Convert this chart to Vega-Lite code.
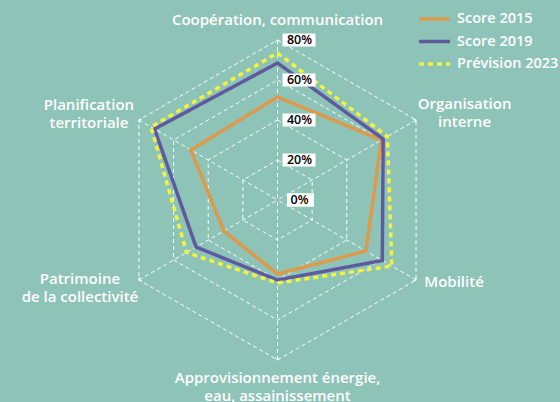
{
  "$schema": "https://vega.github.io/schema/vega-lite/v6.json",
  "width": 560,
  "height": 402,
  "autosize": {"type": "none"},
  "padding": 0,
  "background": "#8ec3b8",
  "config": {
    "view": {"stroke": null},
    "font": "Open Sans",
    "text": {"font": "Open Sans"}
  },
  "datasets": {
    "axes": [
      {"axe": "Coopération, communication", "ordre": 0, "lignes": ["Coopération, communication"]},
      {"axe": "Organisation interne", "ordre": 1, "lignes": ["Organisation", "interne"]},
      {"axe": "Mobilité", "ordre": 2, "lignes": ["Mobilité"]},
      {"axe": "Approvisionnement énergie, eau, assainissement", "ordre": 3, "lignes": ["Approvisionnement énergie,", "eau, assainissement"]},
      {"axe": "Patrimoine de la collectivité", "ordre": 4, "lignes": ["Patrimoine", "de la collectivité"]},
      {"axe": "Planification territoriale", "ordre": 5, "lignes": ["Planification", "territoriale"]}
    ],
    "niveaux": [
      {"niveau": 20, "ordre": 0}, {"niveau": 20, "ordre": 1}, {"niveau": 20, "ordre": 2}, {"niveau": 20, "ordre": 3}, {"niveau": 20, "ordre": 4}, {"niveau": 20, "ordre": 5},
      {"niveau": 40, "ordre": 0}, {"niveau": 40, "ordre": 1}, {"niveau": 40, "ordre": 2}, {"niveau": 40, "ordre": 3}, {"niveau": 40, "ordre": 4}, {"niveau": 40, "ordre": 5},
      {"niveau": 60, "ordre": 0}, {"niveau": 60, "ordre": 1}, {"niveau": 60, "ordre": 2}, {"niveau": 60, "ordre": 3}, {"niveau": 60, "ordre": 4}, {"niveau": 60, "ordre": 5},
      {"niveau": 80, "ordre": 0}, {"niveau": 80, "ordre": 1}, {"niveau": 80, "ordre": 2}, {"niveau": 80, "ordre": 3}, {"niveau": 80, "ordre": 4}, {"niveau": 80, "ordre": 5}
    ],
    "graduations": [
      {"valeur": 0, "texte": "0%"},
      {"valeur": 20, "texte": "20%"},
      {"valeur": 40, "texte": "40%"},
      {"valeur": 60, "texte": "60%"},
      {"valeur": 80, "texte": "80%"}
    ],
    "scores": [
      {"serie": "Score 2015", "axe": "Coopération, communication", "ordre": 0, "valeur": 51.5},
      {"serie": "Score 2015", "axe": "Organisation interne", "ordre": 1, "valeur": 60},
      {"serie": "Score 2015", "axe": "Mobilité", "ordre": 2, "valeur": 51},
      {"serie": "Score 2015", "axe": "Approvisionnement énergie, eau, assainissement", "ordre": 3, "valeur": 37},
      {"serie": "Score 2015", "axe": "Patrimoine de la collectivité", "ordre": 4, "valeur": 31},
      {"serie": "Score 2015", "axe": "Planification territoriale", "ordre": 5, "valeur": 50},
      {"serie": "Score 2019", "axe": "Coopération, communication", "ordre": 0, "valeur": 68.5},
      {"serie": "Score 2019", "axe": "Organisation interne", "ordre": 1, "valeur": 61},
      {"serie": "Score 2019", "axe": "Mobilité", "ordre": 2, "valeur": 60.5},
      {"serie": "Score 2019", "axe": "Approvisionnement énergie, eau, assainissement", "ordre": 3, "valeur": 40},
      {"serie": "Score 2019", "axe": "Patrimoine de la collectivité", "ordre": 4, "valeur": 47},
      {"serie": "Score 2019", "axe": "Planification territoriale", "ordre": 5, "valeur": 71},
      {"serie": "Prévision 2023", "axe": "Coopération, communication", "ordre": 0, "valeur": 73.5},
      {"serie": "Prévision 2023", "axe": "Organisation interne", "ordre": 1, "valeur": 63.5},
      {"serie": "Prévision 2023", "axe": "Mobilité", "ordre": 2, "valeur": 66},
      {"serie": "Prévision 2023", "axe": "Approvisionnement énergie, eau, assainissement", "ordre": 3, "valeur": 41.5},
      {"serie": "Prévision 2023", "axe": "Patrimoine de la collectivité", "ordre": 4, "valeur": 52.5},
      {"serie": "Prévision 2023", "axe": "Planification territoriale", "ordre": 5, "valeur": 73}
    ]
  },
  "layer": [
    {
      "data": {"name": "niveaux"},
      "transform": [
        {"calculate": "datum.niveau * sin(datum.ordre * PI / 3)", "as": "px"},
        {"calculate": "datum.niveau * cos(datum.ordre * PI / 3)", "as": "py"}
      ],
      "mark": {"type": "line", "interpolate": "linear-closed", "color": "white", "strokeWidth": 1, "strokeDash": [4, 3], "opacity": 0.95},
      "encoding": {
        "x": {"field": "px", "type": "quantitative", "scale": {"domain": [-138.75, 141.25], "nice": false, "zero": false}, "axis": null},
        "y": {"field": "py", "type": "quantitative", "scale": {"domain": [-101, 100], "nice": false, "zero": false}, "axis": null},
        "detail": {"field": "niveau"},
        "order": {"field": "ordre", "type": "quantitative"}
      }
    },
    {
      "data": {"name": "axes"},
      "transform": [
        {"calculate": "80 * sin(datum.ordre * PI / 3)", "as": "px"},
        {"calculate": "80 * cos(datum.ordre * PI / 3)", "as": "py"}
      ],
      "mark": {"type": "rule", "color": "white", "strokeWidth": 1, "strokeDash": [4, 3], "opacity": 0.95},
      "encoding": {
        "x": {"field": "px", "type": "quantitative"},
        "y": {"field": "py", "type": "quantitative"},
        "x2": {"datum": 0},
        "y2": {"datum": 0}
      }
    },
    {
      "data": {"name": "axes"},
      "transform": [
        {"calculate": "80 * sin(datum.ordre * PI / 3)", "as": "px"},
        {"calculate": "80 * cos(datum.ordre * PI / 3)", "as": "py"},
        {"calculate": "datum.ordre * 60", "as": "deg"}
      ],
      "mark": {"type": "point", "shape": "M-1,0.9L0,0L1,0.9", "filled": false, "stroke": "white", "strokeWidth": 1, "size": 20, "opacity": 1},
      "encoding": {
        "x": {"field": "px", "type": "quantitative"},
        "y": {"field": "py", "type": "quantitative"},
        "angle": {"field": "deg", "type": "quantitative", "scale": null}
      }
    },
    {
      "data": {"name": "scores"},
      "transform": [
        {"calculate": "datum.valeur * sin(datum.ordre * PI / 3)", "as": "px"},
        {"calculate": "datum.valeur * cos(datum.ordre * PI / 3)", "as": "py"}
      ],
      "mark": {"type": "line", "interpolate": "linear-closed", "strokeWidth": 3.5, "strokeCap": "butt"},
      "encoding": {
        "x": {"field": "px", "type": "quantitative"},
        "y": {"field": "py", "type": "quantitative"},
        "order": {"field": "ordre", "type": "quantitative"},
        "color": {
          "field": "serie", "type": "nominal", "title": null,
          "scale": {"domain": ["Score 2015", "Score 2019", "Prévision 2023"], "range": ["#dd9a4a", "#5f5a9e", "#f4f33c"]},
          "legend": {
            "orient": "none", "legendX": 426.5, "legendY": 11,
            "symbolType": "M-2.58,0H2.58", "symbolSize": 144, "symbolStrokeWidth": 3.5,
            "labelOffset": 14.5, "rowPadding": 7.5,
            "labelColor": "white", "labelFont": "Open Sans", "labelFontWeight": 600, "labelFontSize": 14.5,
            "labelLimit": 200
          }
        },
        "strokeDash": {
          "field": "serie", "type": "nominal", "title": null,
          "scale": {"domain": ["Score 2015", "Score 2019", "Prévision 2023"], "range": [[1, 0], [1, 0], [5, 4]]}
        }
      }
    },
    {
      "data": {"name": "graduations"},
      "transform": [{"filter": "datum.valeur > 0"}],
      "mark": {"type": "point", "shape": "M-1,-0.4H1V0.4H-1Z", "filled": true, "color": "white", "opacity": 1, "size": 1089, "xOffset": 21.5},
      "encoding": {
        "x": {"datum": 0, "type": "quantitative"},
        "y": {"field": "valeur", "type": "quantitative"}
      }
    },
    {
      "data": {"name": "graduations"},
      "transform": [{"filter": "datum.valeur == 0"}],
      "mark": {"type": "point", "shape": "M-1,-0.5H1V0.5H-1Z", "filled": true, "color": "white", "opacity": 1, "size": 729, "xOffset": 23},
      "encoding": {
        "x": {"datum": 0, "type": "quantitative"},
        "y": {"field": "valeur", "type": "quantitative"}
      }
    },
    {
      "data": {"name": "graduations"},
      "mark": {"type": "text", "color": "black", "fontSize": 12.5, "fontWeight": 600, "font": "Open Sans", "xOffset": 22, "baseline": "middle", "align": "center"},
      "encoding": {
        "x": {"datum": 0, "type": "quantitative"},
        "y": {"field": "valeur", "type": "quantitative"},
        "text": {"field": "texte"}
      }
    },
    {
      "data": {"name": "axes"},
      "transform": [
        {"filter": "datum.ordre == 0"},
        {"calculate": "80 * sin(datum.ordre * PI / 3)", "as": "px"},
        {"calculate": "80 * cos(datum.ordre * PI / 3)", "as": "py"}
      ],
      "mark": {"type": "text", "color": "white", "fontSize": 15, "fontWeight": 600, "font": "Open Sans", "lineHeight": 18, "align": "center", "baseline": "middle", "dx": 0, "dy": -20.5},
      "encoding": {"x": {"field": "px", "type": "quantitative"}, "y": {"field": "py", "type": "quantitative"}, "text": {"field": "lignes"}}
    },
    {
      "data": {"name": "axes"},
      "transform": [
        {"filter": "datum.ordre == 1"},
        {"calculate": "80 * sin(datum.ordre * PI / 3)", "as": "px"},
        {"calculate": "80 * cos(datum.ordre * PI / 3)", "as": "py"}
      ],
      "mark": {"type": "text", "color": "white", "fontSize": 15, "fontWeight": 600, "font": "Open Sans", "lineHeight": 18, "align": "center", "baseline": "middle", "dx": 48.5, "dy": -16},
      "encoding": {"x": {"field": "px", "type": "quantitative"}, "y": {"field": "py", "type": "quantitative"}, "text": {"field": "lignes"}}
    },
    {
      "data": {"name": "axes"},
      "transform": [
        {"filter": "datum.ordre == 2"},
        {"calculate": "80 * sin(datum.ordre * PI / 3)", "as": "px"},
        {"calculate": "80 * cos(datum.ordre * PI / 3)", "as": "py"}
      ],
      "mark": {"type": "text", "color": "white", "fontSize": 15, "fontWeight": 600, "font": "Open Sans", "lineHeight": 18, "align": "center", "baseline": "middle", "dx": 38, "dy": 2},
      "encoding": {"x": {"field": "px", "type": "quantitative"}, "y": {"field": "py", "type": "quantitative"}, "text": {"field": "lignes"}}
    },
    {
      "data": {"name": "axes"},
      "transform": [
        {"filter": "datum.ordre == 3"},
        {"calculate": "80 * sin(datum.ordre * PI / 3)", "as": "px"},
        {"calculate": "80 * cos(datum.ordre * PI / 3)", "as": "py"}
      ],
      "mark": {"type": "text", "color": "white", "fontSize": 15, "fontWeight": 600, "font": "Open Sans", "lineHeight": 18, "align": "center", "baseline": "middle", "dx": 0, "dy": 18},
      "encoding": {"x": {"field": "px", "type": "quantitative"}, "y": {"field": "py", "type": "quantitative"}, "text": {"field": "lignes"}}
    },
    {
      "data": {"name": "axes"},
      "transform": [
        {"filter": "datum.ordre == 4"},
        {"calculate": "80 * sin(datum.ordre * PI / 3)", "as": "px"},
        {"calculate": "80 * cos(datum.ordre * PI / 3)", "as": "py"}
      ],
      "mark": {"type": "text", "color": "white", "fontSize": 15, "fontWeight": 600, "font": "Open Sans", "lineHeight": 18, "align": "center", "baseline": "middle", "dx": -59, "dy": -1},
      "encoding": {"x": {"field": "px", "type": "quantitative"}, "y": {"field": "py", "type": "quantitative"}, "text": {"field": "lignes"}}
    },
    {
      "data": {"name": "axes"},
      "transform": [
        {"filter": "datum.ordre == 5"},
        {"calculate": "80 * sin(datum.ordre * PI / 3)", "as": "px"},
        {"calculate": "80 * cos(datum.ordre * PI / 3)", "as": "py"}
      ],
      "mark": {"type": "text", "color": "white", "fontSize": 15, "fontWeight": 600, "font": "Open Sans", "lineHeight": 18, "align": "center", "baseline": "middle", "dx": -50, "dy": -15},
      "encoding": {"x": {"field": "px", "type": "quantitative"}, "y": {"field": "py", "type": "quantitative"}, "text": {"field": "lignes"}}
    }
  ]
}
